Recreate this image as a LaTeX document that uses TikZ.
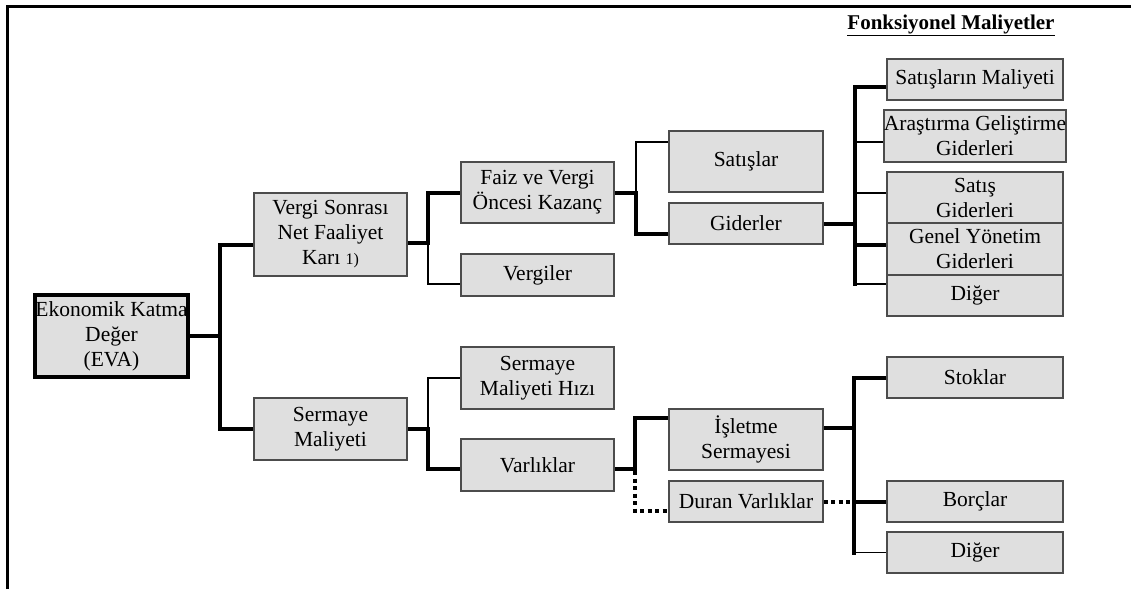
\documentclass[tikz,border=0pt]{standalone}
\usepackage{fontspec}
\setmainfont{Liberation Serif}
\usetikzlibrary{backgrounds,calc}
\begin{document}
\begin{tikzpicture}[x=1pt,y=-1pt,
  box/.style={draw=black!70, fill=gray!25, line width=1.4pt, inner sep=0pt,
    align=center, font=\fontsize{21.5}{25}\selectfont},
  rootbox/.style={box, draw=black, line width=4pt},
  heavy/.style={line width=4pt, line join=miter, line cap=rect},
  light/.style={line width=1.4pt},
  dots/.style={line width=4pt, dash pattern=on 4pt off 3.5pt},
]
\useasboundingbox (0,0) rectangle (1131,589);
% page frame
\draw[line width=3pt] (7,589) -- (7,6) -- (1131,6);

% heading
\node[font=\bfseries\fontsize{21}{24}\selectfont] (title) at (951,25)
  {\underline{Fonksiyonel Maliyetler}};

% root
\node[rootbox, minimum width=153pt, minimum height=82pt] (eva) at (111.5,336)
  {Ekonomik Katma\\Değer\\(EVA)};

% second level
\node[box, minimum width=153pt, minimum height=83pt] (vsn) at (330.5,234.5)
  {Vergi Sonrası\\Net Faaliyet\\Karı {\fontsize{16}{18}\selectfont 1)}};
\node[box, minimum width=153pt, minimum height=62pt] (sm) at (330.5,429)
  {Sermaye\\Maliyeti};

% third level
\node[box, minimum width=153pt, minimum height=61pt] (faiz) at (537.5,192.5)
  {Faiz ve Vergi\\Öncesi Kazanç};
\node[box, minimum width=153pt, minimum height=42pt] (vergi) at (537.5,275)
  {Vergiler};
\node[box, minimum width=153pt, minimum height=62pt] (smh) at (537.5,378)
  {Sermaye\\Maliyeti Hızı};
\node[box, minimum width=153pt, minimum height=52pt] (var) at (537.5,465)
  {Varlıklar};

% fourth level
\node[box, minimum width=154pt, minimum height=61pt] (sat) at (746,161.5)
  {Satışlar};
\node[box, minimum width=154pt, minimum height=41pt] (gid) at (746,223.5)
  {Giderler};
\node[box, minimum width=154pt, minimum height=61pt] (isl) at (746,439.5)
  {İşletme\\Sermayesi};
\node[box, minimum width=154pt, minimum height=41pt] (dur) at (746,501.5)
  {Duran Varlıklar};

% functional costs
\node[box, minimum width=176pt, minimum height=41pt] (slm) at (975,79.5)
  {Satışların Maliyeti};
\node[box, minimum width=176pt, minimum height=52pt] (ag) at (975,136)
  {Araştırma Geliştirme\\Giderleri};
\node[box, minimum width=176pt, minimum height=51pt] (sg) at (975,197.5)
  {Satış\\Giderleri};
\node[box, minimum width=176pt, minimum height=52pt] (gy) at (975,249)
  {Genel Yönetim\\Giderleri};
\node[box, minimum width=176pt, minimum height=41pt] (dig1) at (975,295.5)
  {Diğer};

% working capital items
\node[box, minimum width=176pt, minimum height=41pt] (sto) at (975,377.5)
  {Stoklar};
\node[box, minimum width=176pt, minimum height=41pt] (bor) at (975,501.5)
  {Borçlar};
\node[box, minimum width=176pt, minimum height=41pt] (dig2) at (975,552.5)
  {Diğer};

% x positions of the vertical bus lines
\coordinate (x1) at (220,0);
\coordinate (x2) at (428,0);
\coordinate (x3) at (636,0);
\coordinate (x4) at (855,0);
\coordinate (x6) at (635,0);
\coordinate (x7) at (854,0);

\begin{scope}[on background layer]
  % EVA
  \draw[heavy] (eva.east) -- (eva.east -| x1);
  \draw[heavy] ($(vsn.west)+(0,10.5)$) -| (sm.west -| x1) -- (sm.west);
  % net operating profit
  \draw[heavy] ($(vsn.east)+(0,8.5)$) -| (faiz.west -| x2) -- (faiz.west);
  \draw[light] ($(vsn.east -| x2)+(0,8.5)$) |- ($(vergi.west)+(0,9)$);
  % EBIT
  \draw[heavy] (faiz.east) -| ($(gid.west -| x3)+(0,10.5)$) -- ($(gid.west)+(0,10.5)$);
  \draw[light] (faiz.east -| x3) |- ($(sat.west)+(0,-19.5)$);
  % expenses
  \draw[heavy] (gid.east) -- (gid.east -| x4);
  \draw[heavy] ($(slm.west)+(0,7.5)$) -| ($(dig1.west -| x4)+(0,-11.5)$);
  \draw[light] ($(ag.west)+(0,6)$) -- ($(ag.west -| x4)+(0,6)$);
  \draw[light] ($(sg.west)+(0,-4.5)$) -- ($(sg.west -| x4)+(0,-4.5)$);
  \draw[heavy] ($(gy.west)+(0,-4)$) -- ($(gy.west -| x4)+(0,-4)$);
  \draw[light] ($(dig1.west)+(0,-11.5)$) -- ($(dig1.west -| x4)+(0,-11.5)$);
  % cost of capital
  \draw[heavy] (sm.east) -| ($(var.west -| x2)+(0,4)$) -- ($(var.west)+(0,4)$);
  \draw[light] (sm.east -| x2) |- (smh.west);
  % assets
  \draw[heavy] ($(var.east)+(0,4)$) -| ($(isl.west -| x6)+(0,-21.5)$) -- ($(isl.west)+(0,-21.5)$);
  \draw[dots] ($(var.east -| x6)+(0,6)$) |- ($(dur.west)+(0,9.5)$);
  % working capital
  \draw[heavy] ($(isl.east)+(0,-11.5)$) -- ($(isl.east -| x7)+(0,-11.5)$);
  \draw[dots] (dur.east) -- (dur.east -| x7);
  \draw[heavy] (sto.west) -| (dig2.west -| x7);
  \draw[heavy] (bor.west) -- (bor.west -| x7);
  \draw[light] (dig2.west) -- (dig2.west -| x7);
\end{scope}
\end{tikzpicture}
\end{document}
